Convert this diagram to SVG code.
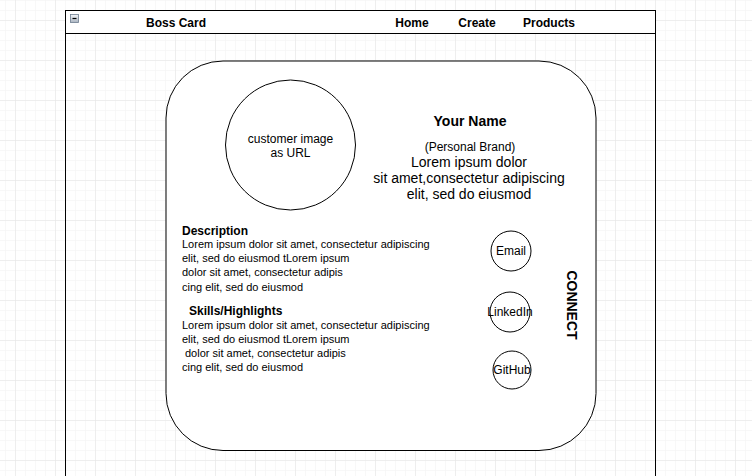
<svg xmlns="http://www.w3.org/2000/svg" width="752" height="476" viewBox="0 0 752 476">
<defs>
<pattern id="minor" x="5" y="0" width="10" height="10" patternUnits="userSpaceOnUse">
<path d="M0 0H10M0 0V10" fill="none" stroke="#f2f2f2" stroke-width="1"/>
</pattern>
<pattern id="major" x="15" y="20" width="40" height="40" patternUnits="userSpaceOnUse">
<path d="M0 0H40M0 0V40" fill="none" stroke="#e3e3e3" stroke-width="1"/>
</pattern>
<linearGradient id="btn" x1="0" y1="0" x2="0" y2="1">
<stop offset="0" stop-color="#f4f6f9"/>
<stop offset="1" stop-color="#aab4c0"/>
</linearGradient>
</defs>
<style>
text{font-family:"Liberation Sans",Arial,Helvetica,sans-serif;fill:#000}
.b{font-weight:bold}
.line{fill:none;stroke:#000;stroke-width:1}
.c{text-anchor:middle}
</style>
<rect width="752" height="476" fill="#fff"/>
<rect width="752" height="476" fill="url(#minor)"/>
<rect width="752" height="476" fill="url(#major)"/>

<g id="frame">
<rect x="65.5" y="10.5" width="590" height="23" fill="#fff" stroke="#000"/>
<path d="M65.5 33.5V476M655.5 33.5V476" class="line"/>
<rect x="70.5" y="14.5" width="8" height="8" fill="url(#btn)" stroke="#6d7d8f" stroke-width="0.8"/>
<path d="M72.5 18.5H76.5" stroke="#000" stroke-width="1.2"/>
<text x="176" y="27" class="b c" font-size="12">Boss Card</text>
<text x="412" y="27" class="b c" font-size="12">Home</text>
<text x="477" y="27" class="b c" font-size="12">Create</text>
<text x="549" y="27" class="b c" font-size="12">Products</text>
</g>

<g id="card">
<rect x="166" y="61" width="430" height="389.5" rx="57" ry="57" fill="#fff" stroke="#000"/>
</g>

<g id="image">
<circle cx="290.5" cy="145" r="65" fill="#fff" stroke="#000"/>
<text x="290.5" y="143" class="c" font-size="12">customer image</text>
<text x="290.5" y="157" class="c" font-size="12">as URL</text>
</g>

<g id="name">
<text x="470" y="126" class="b c" font-size="14">Your Name</text>
<text x="470" y="151" class="c" font-size="12">(Personal Brand)</text>
<text x="469" y="167" class="c" font-size="14">Lorem ipsum dolor</text>
<text x="469" y="183" class="c" font-size="14">sit amet,consectetur adipiscing</text>
<text x="469" y="199" class="c" font-size="14">elit, sed do eiusmod</text>
</g>

<g id="description">
<text x="182" y="235" class="b" font-size="12">Description</text>
<text x="182" y="248" font-size="11">Lorem ipsum dolor sit amet, consectetur adipiscing</text>
<text x="182" y="262" font-size="11">elit, sed do eiusmod tLorem ipsum</text>
<text x="182" y="276" font-size="11">dolor sit amet, consectetur adipis</text>
<text x="182" y="291" font-size="11">cing elit, sed do eiusmod</text>
</g>

<g id="skills">
<text x="189" y="315" class="b" font-size="12">Skills/Highlights</text>
<text x="182" y="329" font-size="11">Lorem ipsum dolor sit amet, consectetur adipiscing</text>
<text x="182" y="343" font-size="11">elit, sed do eiusmod tLorem ipsum</text>
<text x="185" y="357" font-size="11">dolor sit amet, consectetur adipis</text>
<text x="182" y="371" font-size="11">cing elit, sed do eiusmod</text>
</g>

<g id="email">
<circle cx="511" cy="251" r="20" fill="#fff" stroke="#000"/>
<text x="511" y="255" class="c" font-size="12">Email</text>
</g>
<g id="linkedin">
<circle cx="510" cy="312" r="20" fill="#fff" stroke="#000"/>
<text x="510" y="316" class="c" font-size="12">LinkedIn</text>
</g>
<g id="github">
<circle cx="512" cy="370" r="19" fill="#fff" stroke="#000"/>
<text x="512" y="374" class="c" font-size="12">GitHub</text>
</g>

<g id="connect">
<text x="0" y="0" class="b c" font-size="14" transform="translate(567 305) rotate(90)">CONNECT</text>
</g>

<g id="connectors"></g>
</svg>
